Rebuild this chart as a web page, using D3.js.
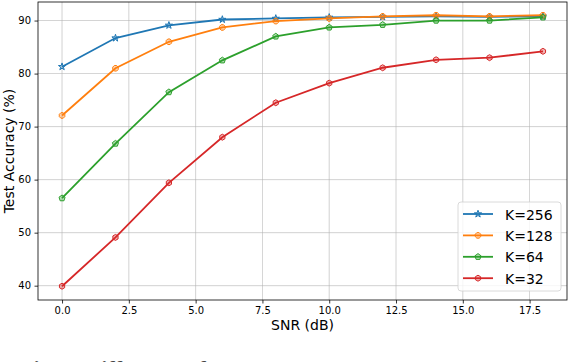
<!DOCTYPE html>
<html>
<head>
<meta charset="utf-8">
<script src="https://cdn.jsdelivr.net/npm/d3@7"></script>
<style>
  body { margin: 0; background: #fff; }
  svg { display: block; font-family: "DejaVu Sans", sans-serif; }
</style>
</head>
<body>
<div id="chart"></div>
<script>
// SNR values (dB) on the x axis
var snr = [0, 2, 4, 6, 8, 10, 12, 14, 16, 18];

// Test accuracy (%) for each K
var acc256 = [81.3, 86.7, 89.1, 90.2, 90.4, 90.6, 90.7, 90.8, 90.7, 90.8];
var acc128 = [72.1, 81.0, 86.0, 88.7, 89.9, 90.4, 90.8, 91.0, 90.8, 91.0];
var acc64  = [56.5, 66.8, 76.5, 82.5, 87.0, 88.7, 89.2, 90.0, 90.0, 90.6];
var acc32  = [39.9, 49.1, 59.4, 68.0, 74.5, 78.2, 81.1, 82.6, 83.0, 84.2];

var seriesNames = ["K=256", "K=128", "K=64", "K=32"];
var xTicks = [0, 2.5, 5, 7.5, 10, 12.5, 15, 17.5];
var yTicks = [40, 50, 60, 70, 80, 90];
var caption = "Fig. 7: Different K for test accuracy on FEMNIST.";

var W = 570, H = 362;
var margin = {top: 2, right: 3, bottom: 62, left: 38};
var pw = W - margin.left - margin.right,
    ph = H - margin.top - margin.bottom;

var colors = ["#1f77b4", "#ff7f0e", "#2ca02c", "#d62728"];
// marker shapes: star, octagon, pentagon, hexagon
var shapes = [
  d3.symbol().type(d3.symbolStar).size(16),
  polySymbol(8, 3),
  polySymbol(5, 3.2),
  polySymbol(6, 3)
];

function polySymbol(n, r) {
  return function() {
    var pts = [];
    for (var i = 0; i < n; i++) {
      var a = -Math.PI / 2 + i * 2 * Math.PI / n + (n == 8 ? Math.PI / 8 : 0);
      pts.push([r * Math.cos(a), r * Math.sin(a)]);
    }
    return "M" + pts.map(function(p) { return p.join(","); }).join("L") + "Z";
  };
}

var data = [acc256, acc128, acc64, acc32].map(function(vals, i) {
  return {
    name: seriesNames[i],
    color: colors[i],
    shape: shapes[i],
    values: snr.map(function(s, j) { return {x: s, y: vals[j]}; })
  };
});

var svg = d3.select("#chart").append("svg")
  .attr("width", W)
  .attr("height", H);

var g = svg.append("g")
  .attr("transform", "translate(" + margin.left + "," + margin.top + ")");

// matplotlib-like 5% margins
var x = d3.scaleLinear().domain([-0.9, 18.9]).range([0, pw]);
var y = d3.scaleLinear().domain([37.3, 93.5]).range([ph, 0]);

// grid
g.append("g").selectAll("line")
  .data(xTicks).enter().append("line")
    .attr("x1", d => x(d)).attr("x2", d => x(d))
    .attr("y1", 0).attr("y2", ph)
    .attr("stroke", "#b0b0b0").attr("stroke-width", 0.8).attr("opacity", 0.7);
g.append("g").selectAll("line")
  .data(yTicks).enter().append("line")
    .attr("x1", 0).attr("x2", pw)
    .attr("y1", d => y(d)).attr("y2", d => y(d))
    .attr("stroke", "#b0b0b0").attr("stroke-width", 0.8).attr("opacity", 0.7);

// axes
var xAxis = g.append("g")
  .attr("transform", "translate(0," + ph + ")")
  .call(d3.axisBottom(x).tickValues(xTicks).tickSize(3.5).tickPadding(3.5)
    .tickFormat(d3.format(".1f")));
var yAxis = g.append("g")
  .call(d3.axisLeft(y).tickValues(yTicks).tickSize(3.5).tickPadding(3.5));
[xAxis, yAxis].forEach(function(a) {
  a.selectAll("text").attr("font-size", 10).attr("fill", "#000")
    .attr("font-family", "DejaVu Sans, sans-serif");
  a.selectAll("line").attr("stroke", "#000").attr("stroke-width", 0.8);
  a.select(".domain").remove();
});

// frame
g.append("rect")
  .attr("width", pw).attr("height", ph)
  .attr("fill", "none").attr("stroke", "#000").attr("stroke-width", 0.8);

// lines and markers
var line = d3.line().x(d => x(d.x)).y(d => y(d.y));
data.forEach(function(s) {
  g.append("path")
    .datum(s.values)
    .attr("d", line)
    .attr("fill", "none")
    .attr("stroke", s.color)
    .attr("stroke-width", 1.8);
  g.append("g").selectAll("path")
    .data(s.values).enter().append("path")
      .attr("transform", d => "translate(" + x(d.x) + "," + y(d.y) + ")")
      .attr("d", s.shape)
      .attr("fill", s.color).attr("fill-opacity", 0.35)
      .attr("stroke", s.color).attr("stroke-width", 1);
});

// axis labels
svg.append("text")
  .attr("x", margin.left + pw / 2).attr("y", 330)
  .attr("text-anchor", "middle").attr("font-size", 14)
  .text("SNR (dB)");
svg.append("text")
  .attr("transform", "translate(14," + (margin.top + ph / 2) + ") rotate(-90)")
  .attr("text-anchor", "middle").attr("font-size", 14)
  .text("Test Accuracy (%)");

// legend
var lg = svg.append("g").attr("transform", "translate(458,202)");
lg.append("rect")
  .attr("width", 103).attr("height", 89).attr("rx", 3)
  .attr("fill", "#fff").attr("fill-opacity", 0.8)
  .attr("stroke", "#d0d0d0").attr("stroke-width", 0.8);
data.forEach(function(s, i) {
  var row = lg.append("g").attr("transform", "translate(0," + (12 + i * 21.4) + ")");
  row.append("line")
    .attr("x1", 5).attr("x2", 35)
    .attr("stroke", s.color).attr("stroke-width", 1.8);
  row.append("path")
    .attr("transform", "translate(20,0)")
    .attr("d", s.shape)
    .attr("fill", s.color).attr("fill-opacity", 0.35)
    .attr("stroke", s.color).attr("stroke-width", 1);
  row.append("text")
    .attr("x", 47).attr("y", 5.5)
    .attr("font-size", 14)
    .text(s.name);
});

// caption (cut off at bottom in the source)
svg.append("text")
  .attr("x", 20).attr("y", 376)
  .attr("font-size", 22).attr("font-weight", "bold")
  .attr("font-family", "Liberation Serif, serif")
  .attr("fill", "#444")
  .text(caption);
</script>
</body>
</html>
